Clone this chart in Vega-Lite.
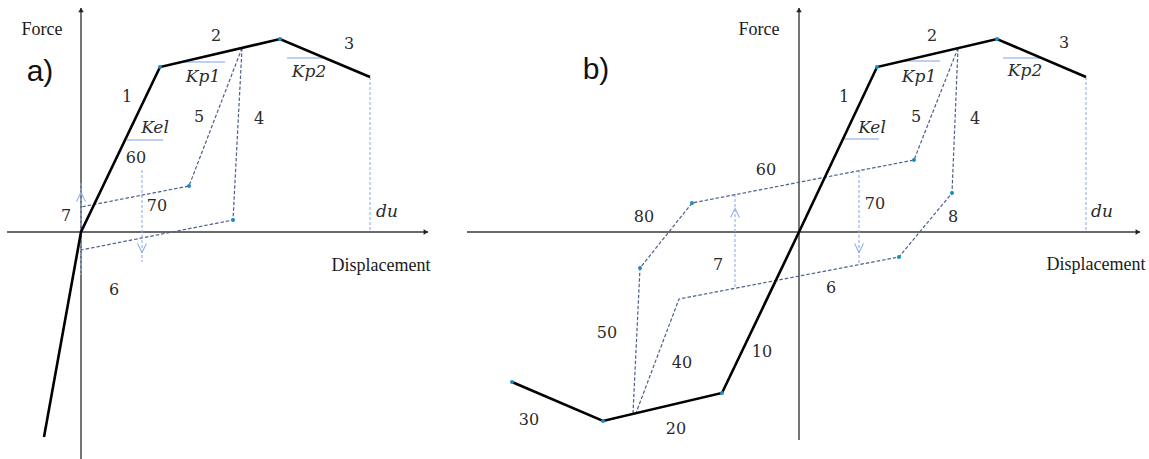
{
  "$schema": "https://vega.github.io/schema/vega-lite/v6.json",
  "padding": 0,
  "spacing": 0,
  "background": "white",
  "config": {"view": {"stroke": null}},
  "datasets": {
    "lines": [
      {"p": "a", "k": "ax", "s": "a-ax", "o": 1, "d": -74, "f": 0},
      {"p": "a", "k": "ax", "s": "a-ax", "o": 2, "d": 347, "f": 0},
      {"p": "a", "k": "ax", "s": "a-ay", "o": 1, "d": 0, "f": 224},
      {"p": "a", "k": "ax", "s": "a-ay", "o": 2, "d": 0, "f": -227},
      {"p": "a", "k": "bb", "s": "a-bb", "o": 1, "d": -37, "f": -205},
      {"p": "a", "k": "bb", "s": "a-bb", "o": 2, "d": 0, "f": 0},
      {"p": "a", "k": "bb", "s": "a-bb", "o": 3, "d": 79, "f": 165},
      {"p": "a", "k": "bb", "s": "a-bb", "o": 4, "d": 199, "f": 193},
      {"p": "a", "k": "bb", "s": "a-bb", "o": 5, "d": 289, "f": 155},
      {"p": "a", "k": "dk", "s": "a-5", "o": 1, "d": 161, "f": 184},
      {"p": "a", "k": "dk", "s": "a-5", "o": 2, "d": 108, "f": 46},
      {"p": "a", "k": "dk", "s": "a-5", "o": 3, "d": 0, "f": 25},
      {"p": "a", "k": "dk", "s": "a-4", "o": 1, "d": 161, "f": 184},
      {"p": "a", "k": "dk", "s": "a-4", "o": 2, "d": 152, "f": 12},
      {"p": "a", "k": "dk", "s": "a-4", "o": 3, "d": 0, "f": -18},
      {"p": "a", "k": "lt", "s": "a-yv", "o": 1, "d": 0, "f": 49},
      {"p": "a", "k": "lt", "s": "a-yv", "o": 2, "d": 0, "f": -43},
      {"p": "a", "k": "lt", "s": "a-v", "o": 1, "d": 61, "f": 62},
      {"p": "a", "k": "lt", "s": "a-v", "o": 2, "d": 61, "f": -30},
      {"p": "a", "k": "lt", "s": "a-du", "o": 1, "d": 289, "f": 155},
      {"p": "a", "k": "lt", "s": "a-du", "o": 2, "d": 289, "f": 0},
      {"p": "a", "k": "ul", "s": "a-kel", "o": 1, "d": 46, "f": 92},
      {"p": "a", "k": "ul", "s": "a-kel", "o": 2, "d": 82, "f": 92},
      {"p": "a", "k": "ul", "s": "a-kp1", "o": 1, "d": 102, "f": 170},
      {"p": "a", "k": "ul", "s": "a-kp1", "o": 2, "d": 144, "f": 170},
      {"p": "a", "k": "ul", "s": "a-kp2", "o": 1, "d": 206, "f": 174},
      {"p": "a", "k": "ul", "s": "a-kp2", "o": 2, "d": 242, "f": 174},
      {"p": "b", "k": "ax", "s": "b-ax", "o": 1, "d": -332, "f": 0},
      {"p": "b", "k": "ax", "s": "b-ax", "o": 2, "d": 341, "f": 0},
      {"p": "b", "k": "ax", "s": "b-ay", "o": 1, "d": 0, "f": 224},
      {"p": "b", "k": "ax", "s": "b-ay", "o": 2, "d": 0, "f": -208},
      {"p": "b", "k": "bb", "s": "b-bb", "o": 1, "d": -287, "f": -150},
      {"p": "b", "k": "bb", "s": "b-bb", "o": 2, "d": -196, "f": -189},
      {"p": "b", "k": "bb", "s": "b-bb", "o": 3, "d": -77, "f": -161},
      {"p": "b", "k": "bb", "s": "b-bb", "o": 4, "d": 0, "f": 0},
      {"p": "b", "k": "bb", "s": "b-bb", "o": 5, "d": 78, "f": 165},
      {"p": "b", "k": "bb", "s": "b-bb", "o": 6, "d": 198, "f": 193},
      {"p": "b", "k": "bb", "s": "b-bb", "o": 7, "d": 287, "f": 155},
      {"p": "b", "k": "dk", "s": "b-a", "o": 1, "d": 159, "f": 184},
      {"p": "b", "k": "dk", "s": "b-a", "o": 2, "d": 115, "f": 72},
      {"p": "b", "k": "dk", "s": "b-a", "o": 3, "d": -107, "f": 29},
      {"p": "b", "k": "dk", "s": "b-a", "o": 4, "d": -159, "f": -36},
      {"p": "b", "k": "dk", "s": "b-a", "o": 5, "d": -166, "f": -181},
      {"p": "b", "k": "dk", "s": "b-b", "o": 1, "d": 159, "f": 184},
      {"p": "b", "k": "dk", "s": "b-b", "o": 2, "d": 153, "f": 39},
      {"p": "b", "k": "dk", "s": "b-b", "o": 3, "d": 100, "f": -25},
      {"p": "b", "k": "dk", "s": "b-b", "o": 4, "d": -120, "f": -67},
      {"p": "b", "k": "dk", "s": "b-b", "o": 5, "d": -163, "f": -181},
      {"p": "b", "k": "lt", "s": "b-v1", "o": 1, "d": -64, "f": 38},
      {"p": "b", "k": "lt", "s": "b-v1", "o": 2, "d": -64, "f": -56},
      {"p": "b", "k": "lt", "s": "b-v2", "o": 1, "d": 60, "f": 62},
      {"p": "b", "k": "lt", "s": "b-v2", "o": 2, "d": 60, "f": -31},
      {"p": "b", "k": "lt", "s": "b-du", "o": 1, "d": 287, "f": 155},
      {"p": "b", "k": "lt", "s": "b-du", "o": 2, "d": 287, "f": 0},
      {"p": "b", "k": "ul", "s": "b-kel", "o": 1, "d": 44, "f": 93},
      {"p": "b", "k": "ul", "s": "b-kel", "o": 2, "d": 80, "f": 93},
      {"p": "b", "k": "ul", "s": "b-kp1", "o": 1, "d": 104, "f": 171},
      {"p": "b", "k": "ul", "s": "b-kp1", "o": 2, "d": 141, "f": 171},
      {"p": "b", "k": "ul", "s": "b-kp2", "o": 1, "d": 204, "f": 174},
      {"p": "b", "k": "ul", "s": "b-kp2", "o": 2, "d": 241, "f": 174}
    ],
    "pts": [
      {"p": "a", "k": "dot", "sh": "circle", "d": 108, "f": 46},
      {"p": "a", "k": "dot", "sh": "circle", "d": 152, "f": 12},
      {"p": "a", "k": "dot", "sh": "circle", "d": 79, "f": 165},
      {"p": "a", "k": "dot", "sh": "circle", "d": 199, "f": 193},
      {"p": "a", "k": "arr", "sh": "triangle-right", "d": 345, "f": 0},
      {"p": "a", "k": "arr", "sh": "triangle-up", "d": 0, "f": 222},
      {"p": "a", "k": "chev", "sh": "M-1,1L0,-1L1,1", "d": 0, "f": 35},
      {"p": "a", "k": "chev", "sh": "M-1,-1L0,1L1,-1", "d": 61, "f": -16},
      {"p": "b", "k": "dot", "sh": "circle", "d": 115, "f": 72},
      {"p": "b", "k": "dot", "sh": "circle", "d": 153, "f": 39},
      {"p": "b", "k": "dot", "sh": "circle", "d": -107, "f": 29},
      {"p": "b", "k": "dot", "sh": "circle", "d": -159, "f": -36},
      {"p": "b", "k": "dot", "sh": "circle", "d": 100, "f": -25},
      {"p": "b", "k": "dot", "sh": "circle", "d": 78, "f": 165},
      {"p": "b", "k": "dot", "sh": "circle", "d": 198, "f": 193},
      {"p": "b", "k": "dot", "sh": "circle", "d": -77, "f": -161},
      {"p": "b", "k": "dot", "sh": "circle", "d": -196, "f": -189},
      {"p": "b", "k": "dot", "sh": "circle", "d": -287, "f": -150},
      {"p": "b", "k": "arr", "sh": "triangle-right", "d": 339, "f": 0},
      {"p": "b", "k": "arr", "sh": "triangle-up", "d": 0, "f": 222},
      {"p": "b", "k": "chev", "sh": "M-1,1L0,-1L1,1", "d": -64, "f": 19},
      {"p": "b", "k": "chev", "sh": "M-1,-1L0,1L1,-1", "d": 60, "f": -16}
    ],
    "labels": [
      {"p": "a", "st": "lab", "t": "Force", "d": -39, "f": 202},
      {"p": "a", "st": "pl", "t": "a)", "d": -41, "f": 160},
      {"p": "a", "st": "num", "t": "1", "d": 46, "f": 135},
      {"p": "a", "st": "num", "t": "2", "d": 135, "f": 196},
      {"p": "a", "st": "num", "t": "3", "d": 268, "f": 188},
      {"p": "a", "st": "it", "t": "Kp1", "d": 122, "f": 155},
      {"p": "a", "st": "it", "t": "Kp2", "d": 228, "f": 160},
      {"p": "a", "st": "it", "t": "Kel", "d": 74, "f": 104},
      {"p": "a", "st": "num", "t": "5", "d": 118, "f": 115},
      {"p": "a", "st": "num", "t": "4", "d": 178, "f": 113},
      {"p": "a", "st": "num", "t": "60", "d": 55, "f": 74},
      {"p": "a", "st": "num", "t": "70", "d": 76, "f": 26},
      {"p": "a", "st": "num", "t": "7", "d": -15, "f": 16},
      {"p": "a", "st": "it", "t": "du", "d": 306, "f": 20},
      {"p": "a", "st": "lab", "t": "Displacement", "d": 300, "f": -34},
      {"p": "a", "st": "num", "t": "6", "d": 33, "f": -58},
      {"p": "b", "st": "lab", "t": "Force", "d": -40, "f": 202},
      {"p": "b", "st": "pl", "t": "b)", "d": -203, "f": 162},
      {"p": "b", "st": "num", "t": "1", "d": 45, "f": 135},
      {"p": "b", "st": "num", "t": "2", "d": 133, "f": 196},
      {"p": "b", "st": "num", "t": "3", "d": 265, "f": 189},
      {"p": "b", "st": "it", "t": "Kp1", "d": 120, "f": 155},
      {"p": "b", "st": "it", "t": "Kp2", "d": 226, "f": 161},
      {"p": "b", "st": "it", "t": "Kel", "d": 73, "f": 104},
      {"p": "b", "st": "num", "t": "5", "d": 117, "f": 115},
      {"p": "b", "st": "num", "t": "4", "d": 176, "f": 113},
      {"p": "b", "st": "num", "t": "60", "d": -33, "f": 62},
      {"p": "b", "st": "num", "t": "70", "d": 76, "f": 28},
      {"p": "b", "st": "num", "t": "8", "d": 154, "f": 15},
      {"p": "b", "st": "num", "t": "80", "d": -155, "f": 15},
      {"p": "b", "st": "num", "t": "7", "d": -81, "f": -33},
      {"p": "b", "st": "num", "t": "6", "d": 32, "f": -56},
      {"p": "b", "st": "it", "t": "du", "d": 303, "f": 20},
      {"p": "b", "st": "lab", "t": "Displacement", "d": 297, "f": -33},
      {"p": "b", "st": "num", "t": "50", "d": -192, "f": -101},
      {"p": "b", "st": "num", "t": "40", "d": -117, "f": -131},
      {"p": "b", "st": "num", "t": "10", "d": -37, "f": -120},
      {"p": "b", "st": "num", "t": "30", "d": -270, "f": -188},
      {"p": "b", "st": "num", "t": "20", "d": -123, "f": -197}
    ]
  },
  "hconcat": [
    {
      "width": 459,
      "height": 459,
      "encoding": {
        "x": {"field": "d", "type": "quantitative", "scale": {"domain": [-81, 378], "nice": false, "zero": false}, "axis": null},
        "y": {"field": "f", "type": "quantitative", "scale": {"domain": [-227, 232], "nice": false, "zero": false}, "axis": null}
      },
      "layer": [
        {"data": {"name": "lines"}, "transform": [{"filter": "datum.p == 'a' && datum.k == 'ax'"}],
         "mark": {"type": "line", "stroke": "#3a3a3a", "strokeWidth": 1.4},
         "encoding": {"detail": {"field": "s"}, "order": {"field": "o"}}},
        {"data": {"name": "lines"}, "transform": [{"filter": "datum.p == 'a' && datum.k == 'lt'"}],
         "mark": {"type": "line", "stroke": "#8fb0e8", "strokeWidth": 1.1, "strokeDash": [3, 2]},
         "encoding": {"detail": {"field": "s"}, "order": {"field": "o"}}},
        {"data": {"name": "lines"}, "transform": [{"filter": "datum.p == 'a' && datum.k == 'ul'"}],
         "mark": {"type": "line", "stroke": "#a9c1ec", "strokeWidth": 1.5},
         "encoding": {"detail": {"field": "s"}, "order": {"field": "o"}}},
        {"data": {"name": "lines"}, "transform": [{"filter": "datum.p == 'a' && datum.k == 'dk'"}],
         "mark": {"type": "line", "stroke": "#4a5f8c", "strokeWidth": 1.2, "strokeDash": [3.5, 2]},
         "encoding": {"detail": {"field": "s"}, "order": {"field": "o"}}},
        {"data": {"name": "lines"}, "transform": [{"filter": "datum.p == 'a' && datum.k == 'bb'"}],
         "mark": {"type": "line", "stroke": "#000000", "strokeWidth": 2.6},
         "encoding": {"detail": {"field": "s"}, "order": {"field": "o"}}},
        {"data": {"name": "pts"}, "transform": [{"filter": "datum.p == 'a' && datum.k == 'dot'"}],
         "mark": {"type": "point", "filled": true, "color": "#1a8cc4", "size": 16, "opacity": 1}},
        {"data": {"name": "pts"}, "transform": [{"filter": "datum.p == 'a' && datum.k == 'arr'"}],
         "mark": {"type": "point", "filled": true, "color": "#222222", "size": 30, "opacity": 1},
         "encoding": {"shape": {"field": "sh", "type": "nominal", "scale": null}}},
        {"data": {"name": "pts"}, "transform": [{"filter": "datum.p == 'a' && datum.k == 'chev'"}],
         "mark": {"type": "point", "filled": false, "stroke": "#8fb0e8", "strokeWidth": 1.1, "size": 80, "opacity": 1},
         "encoding": {"shape": {"field": "sh", "type": "nominal", "scale": null}}},
        {"data": {"name": "labels"}, "transform": [{"filter": "datum.p == 'a' && datum.st == 'num'"}],
         "mark": {"type": "text", "font": "DejaVu Serif", "fontSize": 16, "color": "#2a2a2a", "align": "center", "baseline": "middle"},
         "encoding": {"text": {"field": "t"}}},
        {"data": {"name": "labels"}, "transform": [{"filter": "datum.p == 'a' && datum.st == 'lab'"}],
         "mark": {"type": "text", "font": "Liberation Serif", "fontSize": 18, "color": "#1a1a1a", "align": "center", "baseline": "middle"},
         "encoding": {"text": {"field": "t"}}},
        {"data": {"name": "labels"}, "transform": [{"filter": "datum.p == 'a' && datum.st == 'it'"}],
         "mark": {"type": "text", "font": "DejaVu Serif", "fontStyle": "italic", "fontSize": 17, "color": "#2a2a2a", "align": "center", "baseline": "middle"},
         "encoding": {"text": {"field": "t"}}},
        {"data": {"name": "labels"}, "transform": [{"filter": "datum.p == 'a' && datum.st == 'pl'"}],
         "mark": {"type": "text", "font": "Liberation Sans", "fontSize": 30, "color": "#111111", "align": "center", "baseline": "middle"},
         "encoding": {"text": {"field": "t"}}}
      ]
    },
    {
      "width": 690,
      "height": 459,
      "encoding": {
        "x": {"field": "d", "type": "quantitative", "scale": {"domain": [-340, 350], "nice": false, "zero": false}, "axis": null},
        "y": {"field": "f", "type": "quantitative", "scale": {"domain": [-227, 232], "nice": false, "zero": false}, "axis": null}
      },
      "layer": [
        {"data": {"name": "lines"}, "transform": [{"filter": "datum.p == 'b' && datum.k == 'ax'"}],
         "mark": {"type": "line", "stroke": "#3a3a3a", "strokeWidth": 1.4},
         "encoding": {"detail": {"field": "s"}, "order": {"field": "o"}}},
        {"data": {"name": "lines"}, "transform": [{"filter": "datum.p == 'b' && datum.k == 'lt'"}],
         "mark": {"type": "line", "stroke": "#8fb0e8", "strokeWidth": 1.1, "strokeDash": [3, 2]},
         "encoding": {"detail": {"field": "s"}, "order": {"field": "o"}}},
        {"data": {"name": "lines"}, "transform": [{"filter": "datum.p == 'b' && datum.k == 'ul'"}],
         "mark": {"type": "line", "stroke": "#a9c1ec", "strokeWidth": 1.5},
         "encoding": {"detail": {"field": "s"}, "order": {"field": "o"}}},
        {"data": {"name": "lines"}, "transform": [{"filter": "datum.p == 'b' && datum.k == 'dk'"}],
         "mark": {"type": "line", "stroke": "#4a5f8c", "strokeWidth": 1.2, "strokeDash": [3.5, 2]},
         "encoding": {"detail": {"field": "s"}, "order": {"field": "o"}}},
        {"data": {"name": "lines"}, "transform": [{"filter": "datum.p == 'b' && datum.k == 'bb'"}],
         "mark": {"type": "line", "stroke": "#000000", "strokeWidth": 2.6},
         "encoding": {"detail": {"field": "s"}, "order": {"field": "o"}}},
        {"data": {"name": "pts"}, "transform": [{"filter": "datum.p == 'b' && datum.k == 'dot'"}],
         "mark": {"type": "point", "filled": true, "color": "#1a8cc4", "size": 16, "opacity": 1}},
        {"data": {"name": "pts"}, "transform": [{"filter": "datum.p == 'b' && datum.k == 'arr'"}],
         "mark": {"type": "point", "filled": true, "color": "#222222", "size": 30, "opacity": 1},
         "encoding": {"shape": {"field": "sh", "type": "nominal", "scale": null}}},
        {"data": {"name": "pts"}, "transform": [{"filter": "datum.p == 'b' && datum.k == 'chev'"}],
         "mark": {"type": "point", "filled": false, "stroke": "#8fb0e8", "strokeWidth": 1.1, "size": 80, "opacity": 1},
         "encoding": {"shape": {"field": "sh", "type": "nominal", "scale": null}}},
        {"data": {"name": "labels"}, "transform": [{"filter": "datum.p == 'b' && datum.st == 'num'"}],
         "mark": {"type": "text", "font": "DejaVu Serif", "fontSize": 16, "color": "#2a2a2a", "align": "center", "baseline": "middle"},
         "encoding": {"text": {"field": "t"}}},
        {"data": {"name": "labels"}, "transform": [{"filter": "datum.p == 'b' && datum.st == 'lab'"}],
         "mark": {"type": "text", "font": "Liberation Serif", "fontSize": 18, "color": "#1a1a1a", "align": "center", "baseline": "middle"},
         "encoding": {"text": {"field": "t"}}},
        {"data": {"name": "labels"}, "transform": [{"filter": "datum.p == 'b' && datum.st == 'it'"}],
         "mark": {"type": "text", "font": "DejaVu Serif", "fontStyle": "italic", "fontSize": 17, "color": "#2a2a2a", "align": "center", "baseline": "middle"},
         "encoding": {"text": {"field": "t"}}},
        {"data": {"name": "labels"}, "transform": [{"filter": "datum.p == 'b' && datum.st == 'pl'"}],
         "mark": {"type": "text", "font": "Liberation Sans", "fontSize": 30, "color": "#111111", "align": "center", "baseline": "middle"},
         "encoding": {"text": {"field": "t"}}}
      ]
    }
  ]
}
